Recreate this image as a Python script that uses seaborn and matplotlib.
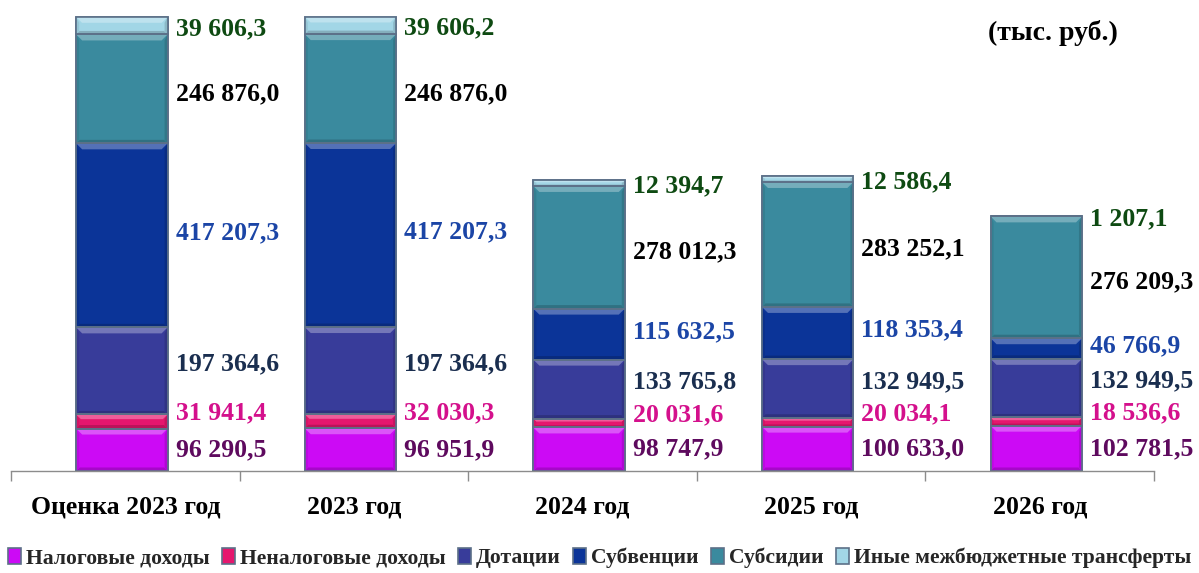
import matplotlib
matplotlib.use("Agg")
import matplotlib.pyplot as plt
import seaborn as sns
import numpy as np
import pandas as pd
from matplotlib.transforms import offset_copy
from matplotlib.patches import Polygon
from matplotlib.colors import to_rgb

# ---------------- data ----------------
categories = ["Оценка 2023 год", "2023 год", "2024 год", "2025 год", "2026 год"]
series_names = ["Налоговые доходы", "Неналоговые доходы", "Дотации", "Субвенции",
                "Субсидии", "Иные межбюджетные трансферты"]
tax_income = [96290.5, 96951.9, 98747.9, 100633.0, 102781.5]
nontax_income = [31941.4, 32030.3, 20031.6, 20034.1, 18536.6]
dotations = [197364.6, 197364.6, 133765.8, 132949.5, 132949.5]
subventions = [417207.3, 417207.3, 115632.5, 118353.4, 46766.9]
subsidies = [246876.0, 246876.0, 278012.3, 283252.1, 276209.3]
other_transfers = [39606.3, 39606.2, 12394.7, 12586.4, 1207.1]
unit_label = "(тыс. руб.)"

series_values = [tax_income, nontax_income, dotations, subventions, subsidies, other_transfers]

# ---------------- style ----------------
fill_colors = ["#CC0AF5", "#E5176E", "#383C9A", "#0B3498", "#3A8A9E", "#A2D6E6"]
label_colors = ["#5E0A5E", "#D4108C", "#1A2E4F", "#1B45A6", "#000000", "#0E4A12"]
label_dy_pt = [0, 6, 5, 2, -3.5, -2]  # vertical nudge of value labels (points)


def mix(c, other, t):
    c = np.array(to_rgb(c))
    return tuple(c * (1 - t) + np.array(other) * t)


sns.set_theme(style="white")
plt.rcParams["font.family"] = ["Liberation Serif", "DejaVu Serif"]
plt.rcParams["font.weight"] = "bold"

W, H = 1199, 573
fig = plt.figure(figsize=(W / 100, H / 100), dpi=100)
ax_left, ax_right = 11 / W, 1154 / W
ax_bottom, ax_top = 1 - 471 / H, 1 - 4 / H
ax = fig.add_axes([ax_left, ax_bottom, ax_right - ax_left, ax_top - ax_bottom])

ymax = 1058700
ax.set_xlim(-0.5, len(categories) - 0.5)
ax.set_ylim(0, ymax)

bar_w = 0.40
bottoms = np.zeros(len(categories))
x = np.arange(len(categories)) - 0.015
all_bars = []
for name, vals, col in zip(series_names, series_values, fill_colors):
    vals = np.asarray(vals, dtype=float)
    bars = ax.bar(x, vals, width=bar_w, bottom=bottoms, color=col,
                  edgecolor="#5C7088", linewidth=1.2, label=name, zorder=2)
    all_bars.append((bars, col))
    bottoms = bottoms + vals

# bevel effect on every bar segment (derived from the drawn patches)
ax_w_px = (ax_right - ax_left) * W
ax_h_px = (ax_top - ax_bottom) * H
px_x = len(categories) / ax_w_px
px_y = ymax / ax_h_px
for bars, col in all_bars:
    for p in bars.patches:
        x0, y0 = p.get_x(), p.get_y()
        x1, y1 = x0 + p.get_width(), y0 + p.get_height()
        h_px = p.get_height() / px_y
        bt = min(6.0, h_px / 3.0)
        bb = min(3.5, h_px / 4.0)
        sx = 3.0 * px_x
        top = Polygon([(x0, y1), (x1, y1), (x1 - bt * px_x, y1 - bt * px_y), (x0 + bt * px_x, y1 - bt * px_y)],
                      closed=True, facecolor=mix(col, (1, 1, 1), 0.3), edgecolor="none", zorder=2.1)
        bot = Polygon([(x0, y0), (x1, y0), (x1 - bb * px_x, y0 + bb * px_y), (x0 + bb * px_x, y0 + bb * px_y)],
                      closed=True, facecolor=mix(col, (0, 0, 0), 0.18), edgecolor="none", zorder=2.1)
        left = Polygon([(x0, y0), (x0 + sx, y0 + bb * px_y), (x0 + sx, y1 - bt * px_y), (x0, y1)],
                       closed=True, facecolor=mix(col, (0, 0, 0), 0.08), edgecolor="none", zorder=2.05)
        right = Polygon([(x1, y0), (x1 - sx, y0 + bb * px_y), (x1 - sx, y1 - bt * px_y), (x1, y1)],
                        closed=True, facecolor=mix(col, (0, 0, 0), 0.14), edgecolor="none", zorder=2.05)
        for poly in (left, right, top, bot):
            ax.add_patch(poly)
        ax.add_patch(plt.Rectangle((x0, y0), x1 - x0, y1 - y0, fill=False,
                                   edgecolor="#5C7088", linewidth=1.2, zorder=2.2))

# value labels
bottoms = np.zeros(len(categories))
for i, (vals, lc) in enumerate(zip(series_values, label_colors)):
    vals = np.asarray(vals, dtype=float)
    mids = bottoms + vals / 2
    trans = offset_copy(ax.transData, fig=fig, x=0, y=label_dy_pt[i], units="points")
    for xi, (m, v) in enumerate(zip(mids, vals)):
        txt = f"{v:,.1f}".replace(",", " ").replace(".", ",")
        ax.text(x[xi] + bar_w / 2 + 0.035, m, txt, transform=trans, ha="left", va="center",
                fontsize=18.5, fontweight="bold", color=lc, zorder=3)
    bottoms = bottoms + vals

ax.set_yticks([])
ax.set_xticks(np.arange(len(categories)))
ax.set_xticklabels(categories, fontsize=18.5, fontweight="bold", color="black")
ax.set_xticks(np.arange(-0.5, len(categories)), minor=True)
ax.tick_params(axis="x", which="major", length=0, pad=18)
ax.tick_params(axis="x", which="minor", length=7, width=1, color="#8C8C8C", direction="out", bottom=True)
for s in ["top", "right", "left"]:
    ax.spines[s].set_visible(False)
ax.spines["bottom"].set_color("#8C8C8C")
ax.spines["bottom"].set_linewidth(1)

fig.text(1118 / W, 1 - 33 / H, unit_label, ha="right", va="center",
         fontsize=20, fontweight="bold", color="black")

handles, labels = ax.get_legend_handles_labels()
leg = fig.legend(handles, labels, loc="center", bbox_to_anchor=(0.5, 1 - 558 / H),
                 ncol=6, frameon=False, fontsize=15.6, handlelength=0.6, handleheight=0.8,
                 handletextpad=0.25, columnspacing=0.55, borderaxespad=0)
for t in leg.get_texts():
    t.set_fontweight("bold")

fig.savefig("out.png", dpi=100)
